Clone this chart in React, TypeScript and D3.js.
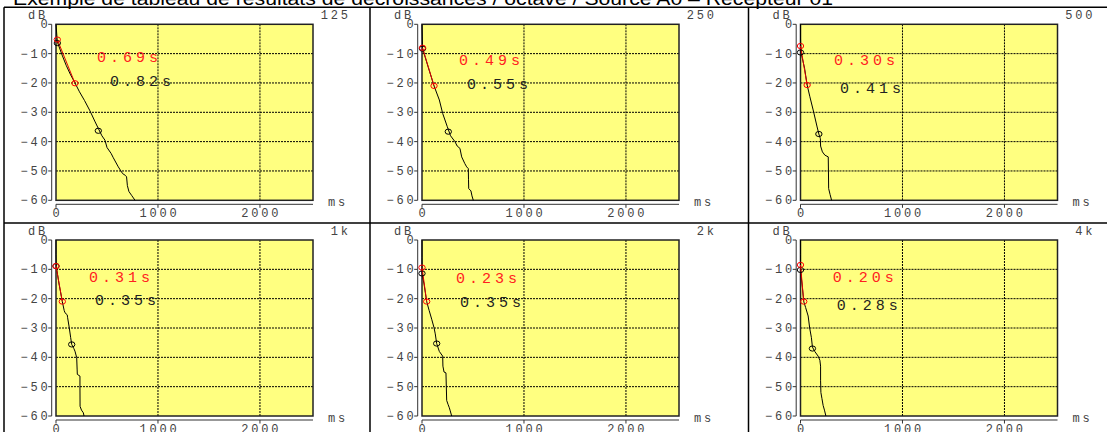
import React from 'react';
import * as d3 from 'd3';

const title = 'Exemple de tableau de résultats de décroissances / octave / Source A0 – Récepteur 01';
const bands = ['125', '250', '500', '1k', '2k', '4k'];
const edtText = ['0.69s', '0.49s', '0.30s', '0.31s', '0.23s', '0.20s'];
const t30Text = ['0.82s', '0.55s', '0.41s', '0.35s', '0.35s', '0.28s'];

const decay125 = [[0, 0], [13, -6], [60, -10.5], [100, -14], [140, -17], [186, -20], [230, -23], [280, -26], [333, -29.5], [380, -33], [415, -35.5], [450, -38], [480, -39.5], [500, -42], [540, -44], [562, -45.5], [611, -48.6], [653, -50.9], [680, -51.5], [692, -52], [700, -55], [715, -57], [741, -58.3], [775, -60]];
const decay250 = [[0, 0], [3, -4], [5, -8.2], [60, -14.5], [118, -21], [170, -25.8], [203, -30.4], [248, -34.9], [280, -38], [323, -40], [345, -41.5], [372, -42.3], [389, -45.2], [420, -47.5], [438, -48.6], [454, -49.2], [456, -53], [458, -56], [480, -56.8], [490, -58.5], [503, -60]];
const decay500 = [[0, 0], [0, -5], [5, -9.6], [40, -15], [65, -20.7], [92, -24.7], [124, -29.2], [163, -35], [180, -37.4], [195, -39], [197, -41.5], [215, -43.5], [239, -44.6], [272, -45.2], [274, -50], [276, -56], [290, -58], [305, -60]];
const decay1k = [[0, 0], [0, -5], [2, -8.9], [30, -15], [62, -21], [80, -24], [88, -24.8], [110, -25.5], [114, -26.5], [130, -29.9], [144, -33.3], [154, -35.6], [175, -37], [186, -37.9], [203, -40.1], [207, -44], [209, -45.8], [235, -46.4], [235, -50], [236, -56.7], [250, -58], [268, -58.9], [275, -60]];
const decay2k = [[0, 0], [0, -6], [0, -11.4], [20, -15], [46, -21], [70, -24], [95, -27], [118, -29.9], [130, -32], [144, -35.3], [170, -38], [203, -39.6], [205, -43], [216, -45], [235, -45.3], [242, -54.7], [255, -56], [268, -57.2], [275, -58], [291, -60]];
const decay4k = [[0, 0], [0, -5], [0, -10.2], [15, -15], [32, -21], [50, -23], [75, -25.9], [90, -30], [107, -33.3], [117, -36.5], [140, -38], [173, -39.6], [190, -41], [197, -43], [197, -48], [200, -52], [210, -54], [222, -56.4], [235, -58], [249, -60]];
const decays = [decay125, decay250, decay500, decay1k, decay2k, decay4k];

const edtStart = [[13, -5.2], [5, -8], [0, -7.4], [0, -8.9], [0, -9.4], [0, -8.5]];
const edtEnd = [[186, -20.1], [118, -21], [65, -20.7], [62, -21], [46, -21], [32, -21]];
const t30Start = [[13, -6.4], [5, -8.3], [0, -9.6], [0, -8.9], [0, -11.4], [0, -10.2]];
const t30End = [[415, -36.3], [258, -36.6], [180, -37.4], [154, -35.6], [144, -35.3], [117, -37]];
const edtLabelAt = [[402, -12.7], [363, -13.9], [328, -13.9], [324, -14.4], [333, -14.8], [316, -14.2]];
const t30LabelAt = [[529, -21.2], [441, -22.1], [387, -23.3], [382, -22.1], [373, -22.8], [356, -23.7]];

const xTicks = [0, 1000, 2000];
const yTicks = [0, -10, -20, -30, -40, -50, -60];
const gridY = [-10, -20, -30, -40, -50];
const gridX = [1000, 2000];

const colX = [4, 370, 748.5];
const rowY = [7.3, 223];
const W = 1107;
const H = 432;

const MONO = '"Liberation Mono", "DejaVu Sans Mono", monospace';
const fmt = (v: number) => (v < 0 ? '\u2212' + Math.abs(v) : String(v));

function Panel({ i }: { i: number }) {
  const bx = colX[i % 3];
  const by = rowY[Math.floor(i / 3)];
  const pl = bx + 52;
  const pt = by + 17;
  const pw = 257;
  const ph = 176;
  const x = d3.scaleLinear().domain([0, 2520]).range([pl, pl + pw]);
  const y = d3.scaleLinear().domain([0, -60]).range([pt, pt + ph]);
  const line = d3.line<number[]>().x(d => x(d[0])).y(d => y(d[1]));
  const axX = pl - 4.3;
  const axY = pt + ph + 4;
  const small = { fontFamily: MONO, fontSize: 12, letterSpacing: 2.8, fill: '#444' } as const;
  const big = { fontFamily: MONO, fontSize: 15, letterSpacing: 4 } as const;
  return (
    <g>
      <text x={bx + 24} y={by + 11.5} style={small}>dB</text>
      <text x={bx + 344 + 2.8} y={by + 11.5} textAnchor="end" style={small}>{bands[i]}</text>
      <rect x={pl} y={pt} width={pw} height={ph} fill="#ffff80" />
      {gridY.map(v => (
        <line key={'gy' + v} x1={pl} x2={pl + pw} y1={y(v)} y2={y(v)} stroke="#000" strokeWidth={1} strokeDasharray="2 1" />
      ))}
      {gridX.map(v => (
        <line key={'gx' + v} x1={x(v)} x2={x(v)} y1={pt} y2={pt + ph} stroke="#000" strokeWidth={1} strokeDasharray="2 1" />
      ))}
      <rect x={pl} y={pt} width={pw} height={ph} fill="none" stroke="#222" strokeWidth={1.5} />
      <line x1={axX} x2={axX} y1={pt} y2={pt + ph} stroke="#333" strokeWidth={1} />
      {yTicks.map(v => (
        <g key={'yt' + v}>
          <line x1={axX - 3.5} x2={axX} y1={y(v)} y2={y(v)} stroke="#333" strokeWidth={1} />
          <text x={axX - 4 + 2.8} y={y(v) + 4} textAnchor="end" style={small}>{fmt(v)}</text>
        </g>
      ))}
      <line x1={pl} x2={pl + pw} y1={axY} y2={axY} stroke="#333" strokeWidth={1} />
      {xTicks.map(v => (
        <g key={'xt' + v}>
          <line x1={x(v)} x2={x(v)} y1={axY} y2={axY + 3.5} stroke="#333" strokeWidth={1} />
          <text x={x(v) + 1.4} y={axY + 12.5} textAnchor="middle" style={small}>{v}</text>
        </g>
      ))}
      <text x={bx + 324} y={pt + ph + 6} style={small}>ms</text>
      <path d={line(decays[i]) || ''} fill="none" stroke="#000" strokeWidth={1} />
      <path d={line([edtStart[i], edtEnd[i]]) || ''} fill="none" stroke="#e00000" strokeWidth={1} />
      {[t30Start[i], t30End[i]].map((p, k) => (
        <ellipse key={'tc' + k} cx={x(p[0])} cy={y(p[1])} rx={3.2} ry={2.6} fill="none" stroke="#000" strokeWidth={1} />
      ))}
      {[edtStart[i], edtEnd[i]].map((p, k) => (
        <ellipse key={'ec' + k} cx={x(p[0])} cy={y(p[1])} rx={3.2} ry={2.6} fill="none" stroke="#ff0000" strokeWidth={1} />
      ))}
      <text x={x(edtLabelAt[i][0])} y={y(edtLabelAt[i][1])} style={big} fill="#ff2020">{edtText[i]}</text>
      <text x={x(t30LabelAt[i][0])} y={y(t30LabelAt[i][1])} style={big} fill="#222">{t30Text[i]}</text>
    </g>
  );
}

export default function App() {
  return (
    <svg width={W} height={H} style={{ position: 'absolute', left: 0, top: 0, background: '#fff' }}>
      <rect x={0} y={0} width={W} height={H} fill="#fff" />
      <text x={13} y={4.5} fontFamily='"Liberation Sans", Arial, sans-serif' fontSize={18} fill="#000" textLength={820} lengthAdjust="spacingAndGlyphs">{title}</text>
      <line x1={4} x2={W} y1={rowY[0]} y2={rowY[0]} stroke="#000" strokeWidth={1.5} />
      <line x1={4} x2={W} y1={rowY[1]} y2={rowY[1]} stroke="#000" strokeWidth={1.5} />
      {colX.map(cx => (
        <line key={'cv' + cx} x1={cx} x2={cx} y1={rowY[0]} y2={H} stroke="#000" strokeWidth={1.5} />
      ))}
      {bands.map((b, i) => <Panel key={b} i={i} />)}
    </svg>
  );
}
